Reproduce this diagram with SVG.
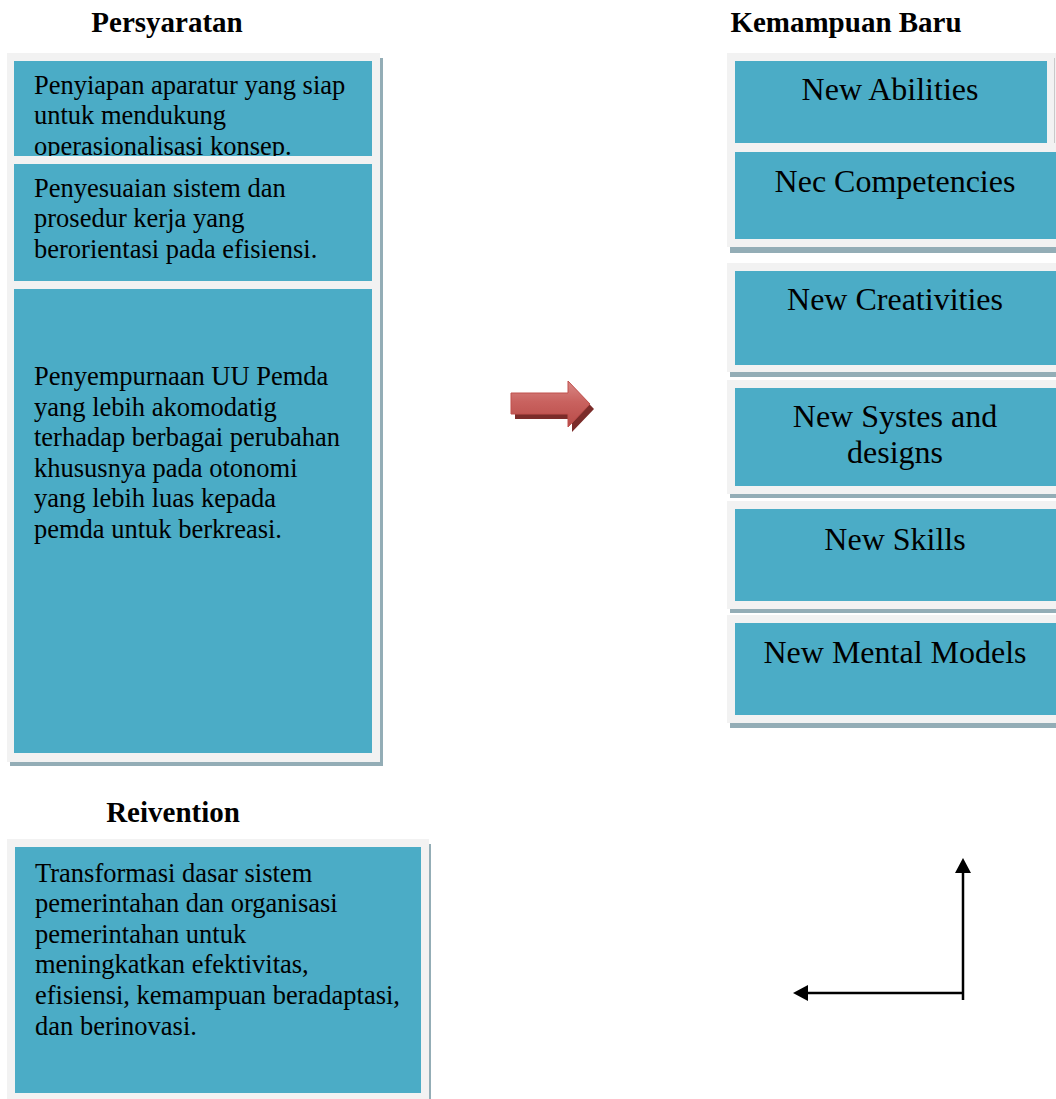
<svg xmlns="http://www.w3.org/2000/svg" width="1056" height="1099" viewBox="0 0 1056 1099">
<style>
.frame{fill:#f2f2f2}
.box{fill:#4bacc6}
.shadow{fill:#93adb6}
.t{font-family:"Liberation Serif","Times New Roman",serif;fill:#000}
.lt{font-size:26.5px}
.rt{font-size:32px;text-anchor:middle}
.h{font-size:29px;font-weight:bold;text-anchor:middle}
.conn{stroke:#000;stroke-width:2.5;fill:none}
</style>
<defs>
<marker id="ah" viewBox="0 0 15 16" refX="0" refY="8" markerWidth="15" markerHeight="16" markerUnits="userSpaceOnUse" orient="auto">
<path d="M0,0 L15,8 L0,16 z" fill="#000"/>
</marker>
<linearGradient id="rg" x1="0" y1="0" x2="0" y2="1">
<stop offset="0" stop-color="#d98986"/>
<stop offset="0.45" stop-color="#c9625f"/>
<stop offset="1" stop-color="#b84b48"/>
</linearGradient>
<clipPath id="c1"><rect x="14" y="61" width="358" height="95"/></clipPath>
</defs>

<g id="title-persyaratan"><text class="t h" x="167" y="32">Persyaratan</text></g>
<g id="title-kemampuan"><text class="t h" x="846" y="32">Kemampuan Baru</text></g>
<g id="title-reivention"><text class="t h" x="173" y="822">Reivention</text></g>

<g id="left-frame">
<rect class="shadow" x="10" y="58" width="373" height="708"/>
<rect class="frame" x="7" y="53" width="373" height="709"/>
</g>

<g id="node-penyiapan">
<rect class="box" x="14" y="61" width="358" height="95"/>
<g clip-path="url(#c1)">
<text class="t lt" x="34" y="94">Penyiapan aparatur yang siap</text>
<text class="t lt" x="34" y="124">untuk mendukung</text>
<text class="t lt" x="34" y="155">operasionalisasi konsep.</text>
</g>
</g>

<g id="node-penyesuaian">
<rect class="box" x="14" y="164" width="358" height="117"/>
<text class="t lt" x="34" y="197">Penyesuaian sistem dan</text>
<text class="t lt" x="34" y="227">prosedur kerja yang</text>
<text class="t lt" x="34" y="258">berorientasi pada efisiensi.</text>
</g>

<g id="node-penyempurnaan">
<rect class="box" x="14" y="289" width="358" height="464"/>
<text class="t lt" x="34" y="385">Penyempurnaan UU Pemda</text>
<text class="t lt" x="34" y="416">yang lebih akomodatig</text>
<text class="t lt" x="34" y="446">terhadap berbagai perubahan</text>
<text class="t lt" x="34" y="477">khususnya pada otonomi</text>
<text class="t lt" x="34" y="507">yang lebih luas kepada</text>
<text class="t lt" x="34" y="538">pemda untuk berkreasi.</text>
</g>

<g id="node-transformasi">
<rect class="shadow" x="10" y="844" width="421" height="255"/>
<rect class="frame" x="7" y="839" width="422" height="260"/>
<rect class="box" x="15" y="847" width="406" height="246"/>
<text class="t lt" x="35" y="882">Transformasi dasar sistem</text>
<text class="t lt" x="35" y="912">pemerintahan dan organisasi</text>
<text class="t lt" x="35" y="943">pemerintahan untuk</text>
<text class="t lt" x="35" y="973">meningkatkan efektivitas,</text>
<text class="t lt" x="35" y="1004">efisiensi, kemampuan beradaptasi,</text>
<text class="t lt" x="35" y="1035">dan berinovasi.</text>
</g>

<g id="right-group-1">
<rect class="shadow" x="730" y="58" width="326" height="195"/>
<rect class="frame" x="727" y="53" width="329" height="194"/>
<line x1="1054.5" y1="58" x2="1054.5" y2="143" stroke="#c9c9c9" stroke-width="1"/>
</g>
<g id="node-new-abilities">
<rect class="box" x="735" y="61" width="312" height="82"/>
<text class="t rt" x="890" y="100">New Abilities</text>
</g>
<g id="node-nec-competencies">
<rect class="box" x="735" y="152" width="321" height="87"/>
<text class="t rt" x="895" y="192">Nec Competencies</text>
</g>

<g id="node-new-creativities">
<rect class="shadow" x="730" y="268" width="326" height="109"/>
<rect class="frame" x="727" y="263" width="329" height="109"/>
<rect class="box" x="735" y="271" width="321" height="94"/>
<text class="t rt" x="895" y="310">New Creativities</text>
</g>

<g id="node-new-systes">
<rect class="shadow" x="730" y="385" width="326" height="113"/>
<rect class="frame" x="727" y="380" width="329" height="114"/>
<rect class="box" x="735" y="388" width="321" height="98"/>
<text class="t rt" x="895" y="427">New Systes and</text>
<text class="t rt" x="895" y="463">designs</text>
</g>

<g id="node-new-skills">
<rect class="shadow" x="730" y="506" width="326" height="107"/>
<rect class="frame" x="727" y="501" width="329" height="108"/>
<rect class="box" x="735" y="509" width="321" height="92"/>
<text class="t rt" x="895" y="550">New Skills</text>
</g>

<g id="node-new-mental-models">
<rect class="shadow" x="730" y="620" width="326" height="108"/>
<rect class="frame" x="727" y="615" width="329" height="108"/>
<rect class="box" x="735" y="623" width="321" height="92"/>
<text class="t rt" x="895" y="663">New Mental Models</text>
</g>

<g id="connectors">
<g id="red-arrow">
<polygon points="515,398 572,398 572,386 594,409 572,432 572,419 515,419" fill="#7b2c2a"/>
<polygon points="511,393 568,393 568,381 590,404 568,427 568,414 511,414" fill="url(#rg)" stroke="#c0504d" stroke-width="1"/>
</g>
<path class="conn" d="M963,1000 L963,873" marker-end="url(#ah)"/>
<path class="conn" d="M963,993 L808,993" marker-end="url(#ah)"/>
</g>
</svg>
